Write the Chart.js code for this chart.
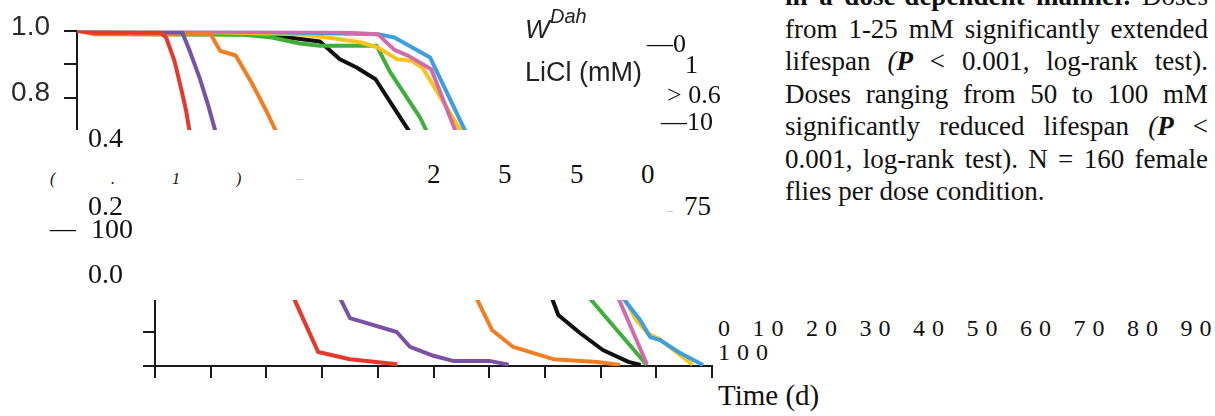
<!DOCTYPE html>
<html>
<head>
<meta charset="utf-8">
<script src="https://cdn.jsdelivr.net/npm/chart.js@4.4.1/dist/chart.umd.min.js"></script>
<style>
  body { margin: 0; width: 1215px; height: 416px; overflow: hidden; background: #fff; position: relative; }
  .t { position: absolute; white-space: nowrap; line-height: 1; color: #111; }
  .serif { font-family: 'Liberation Serif', serif; }
  .sans { font-family: 'Liberation Sans', Arial, sans-serif; color: #222; }
  #topPanel { position: absolute; left: 0; top: 0; width: 720px; height: 130px; overflow: hidden; }
  #topPanel canvas { position: absolute; left: 0; top: 0; }
  #botPanel { position: absolute; left: 0; top: 300px; width: 716px; height: 85px; overflow: hidden; }
  #botPanel canvas { position: absolute; left: 0; top: -300px; }
  .para { position: absolute; left: 785px; top: -20px; width: 423px; font: 27px/32.5px 'Liberation Serif', serif; color: #111; }
  .para div { text-align: justify; text-align-last: justify; }
  .para div.last { text-align-last: left; }
</style>
</head>
<body>

<div id="topPanel"><canvas id="chartTop" width="720" height="420"></canvas></div>
<div id="botPanel"><canvas id="chartBottom" width="720" height="420"></canvas></div>

<!-- legend as it came out of the pdf -->
<div class="t sans" style="left:525px;top:16px;font-size:26px;font-style:italic;">W</div>
<div class="t sans" style="left:550px;top:6px;font-size:20px;font-style:italic;">Dah</div>
<div class="t sans" style="left:525px;top:59px;font-size:27px;">LiCl (mM)</div>
<div class="t serif" style="left:647px;top:31px;font-size:26px;">—0</div>
<div class="t serif" style="left:685px;top:52px;font-size:26px;">1</div>
<div class="t serif" style="left:667px;top:82px;font-size:26px;">&gt; 0.6</div>
<div class="t serif" style="left:661px;top:109px;font-size:26px;">—10</div>

<div class="t serif" style="left:88px;top:124px;font-size:28px;">0.4</div>
<div class="t serif" style="left:50px;top:171px;font-size:16px;font-style:italic;">(</div>
<div class="t serif" style="left:111px;top:171px;font-size:16px;font-style:italic;">.</div>
<div class="t serif" style="left:172px;top:171px;font-size:16px;font-style:italic;">1</div>
<div class="t serif" style="left:236px;top:171px;font-size:16px;font-style:italic;">)</div>
<div class="t serif" style="left:296px;top:172px;font-size:14px;color:#9fd49f;">–</div>
<div class="t serif" style="left:427px;top:161px;font-size:27px;">2</div>
<div class="t serif" style="left:498px;top:161px;font-size:27px;">5</div>
<div class="t serif" style="left:570px;top:161px;font-size:27px;">5</div>
<div class="t serif" style="left:641px;top:161px;font-size:27px;">0</div>
<div class="t serif" style="left:88px;top:192px;font-size:28px;">0.2</div>
<div class="t serif" style="left:667px;top:204px;font-size:12px;color:#bba8d8;">–</div>
<div class="t serif" style="left:684px;top:193px;font-size:27px;">75</div>
<div class="t serif" style="left:50px;top:216px;font-size:26px;">—</div>
<div class="t serif" style="left:91px;top:215px;font-size:28px;">100</div>
<div class="t serif" style="left:88px;top:260px;font-size:28px;">0.0</div>

<div class="t serif" style="left:718px;top:316px;font-size:24px;letter-spacing:7px;word-spacing:2.5px;">0 10 20 30 40 50 60 70 80 90</div>
<div class="t serif" style="left:718px;top:340px;font-size:24px;letter-spacing:7px;">100</div>
<div class="t serif" style="left:718px;top:381px;font-size:29px;">Time (d)</div>

<div class="para">
  <div><b>in a dose-dependent manner.</b> Doses</div>
  <div>from 1-25 mM significantly extended</div>
  <div>lifespan <i>(<b>P</b></i> &lt; 0.001, log-rank test).</div>
  <div>Doses ranging from 50 to 100 mM</div>
  <div>significantly reduced lifespan <i>(<b>P</b></i> &lt;</div>
  <div>0.001, log-rank test). N = 160 female</div>
  <div class="last">flies per dose condition.</div>
</div>

<script>
// survival curves, time in days, fraction alive
const time100 = [0, 3, 15, 16, 17.5, 18.8, 19.6, 20.5, 22.5, 23.8, 29.3, 35, 43.5];
const surv100 = [1, 0.994, 0.994, 0.98, 0.91, 0.82, 0.76, 0.67, 0.42, 0.24, 0.041, 0.02, 0.005];

const time75 = [0, 5, 18.9, 20, 22, 23.5, 25, 29, 32, 35, 43.4, 45.8, 50, 53.5, 60, 63.5];
const surv75 = [1, 0.997, 0.995, 0.95, 0.86, 0.78, 0.69, 0.45, 0.24, 0.141, 0.1, 0.056, 0.03, 0.015, 0.015, 0.004];

const time50 = [0, 3, 24, 25.7, 28.5, 31.5, 34, 36, 44, 51, 56.5, 60.5, 64.3, 71.5, 79.4, 83.5];
const surv50 = [1, 0.99, 0.99, 0.94, 0.926, 0.84, 0.76, 0.69, 0.45, 0.32, 0.24, 0.106, 0.056, 0.02, 0.012, 0.003];

const time10 = [0, 45, 54, 57, 59.5, 63.6, 68.2, 75, 82, 88.3];
const surv10 = [1, 0.997, 0.99, 0.943, 0.925, 0.885, 0.69, 0.43, 0.245, 0.006];

const time5 = [0, 30, 54, 57, 63.4, 70, 76, 84, 87.1, 88.9, 90.7, 94.3, 98.4];
const surv5 = [1, 0.997, 0.99, 0.98, 0.92, 0.69, 0.47, 0.2, 0.135, 0.085, 0.076, 0.038, 0.003];

const time1 = [0, 20, 40, 46, 51, 54, 56.5, 57.5, 60, 62, 69.3, 76, 84, 86.2, 88.5, 90.5, 93.5, 96.5];
const surv1 = [1, 0.997, 0.99, 0.978, 0.965, 0.95, 0.925, 0.915, 0.91, 0.89, 0.69, 0.46, 0.21, 0.14, 0.095, 0.08, 0.042, 0.004];

const time25 = [0, 10, 30, 35, 40, 43.6, 53.8, 56.2, 61.6, 70, 78, 88.3];
const surv25 = [1, 0.99, 0.988, 0.98, 0.962, 0.955, 0.955, 0.877, 0.74, 0.45, 0.2, 0.003];

const time0 = [0, 10, 30, 38, 43.6, 47.2, 50.2, 53.6, 56.3, 60, 66, 72.4, 76.3, 80.4, 85, 87.2];
const surv0 = [1, 0.993, 0.99, 0.98, 0.968, 0.915, 0.89, 0.855, 0.785, 0.69, 0.43, 0.15, 0.097, 0.047, 0.012, 0.003];

const xTicks = [0, 10, 20, 30, 40, 50, 60, 70, 80, 90, 100];

// first one is drawn on top
const lines = [
  { label: '100', t: time100, s: surv100, color: '#e6392d' },
  { label: '75', t: time75, s: surv75, color: '#7b52a3' },
  { label: '50', t: time50, s: surv50, color: '#f27e22' },
  { label: '10', t: time10, s: surv10, color: '#d26ba9' },
  { label: '5', t: time5, s: surv5, color: '#3d9fdb' },
  { label: '1', t: time1, s: surv1, color: '#f9c31a' },
  { label: '25', t: time25, s: surv25, color: '#3fae3a' },
  { label: '0', t: time0, s: surv0, color: '#111111' }
];

function makeDatasets() {
  return lines.map(l => ({
    label: l.label,
    data: l.t.map((x, i) => ({ x: x, y: l.s[i] })),
    borderColor: l.color,
    borderWidth: 4,
    pointRadius: 0,
    tension: 0,
    borderJoinStyle: 'round',
    fill: false
  }));
}

const axisColor = '#1a1a1a';

// upper piece: 1.0 down to 0.7
new Chart(document.getElementById('chartTop'), {
  type: 'line',
  data: { datasets: makeDatasets() },
  options: {
    responsive: false,
    animation: false,
    layout: { padding: { top: 25, right: 86, bottom: 55, left: 0 } },
    plugins: { legend: { display: false }, tooltip: { enabled: false } },
    scales: {
      x: { type: 'linear', min: 0, max: 100, display: false },
      y: {
        min: 0, max: 1,
        afterFit: s => { s.width = 77; },
        ticks: {
          stepSize: 0.1,
          autoSkip: false,
          padding: 14,
          labelOffset: -4,
          color: '#2a2a2a',
          font: { family: 'Liberation Sans', size: 28 },
          callback: v => (Math.round(v * 10) % 2 === 0 ? v.toFixed(1) : '')
        },
        grid: { drawOnChartArea: false, drawTicks: true, tickLength: 13, color: axisColor, lineWidth: 2 },
        border: { display: true, color: axisColor, width: 2 }
      }
    }
  }
});

// lower piece: 0 to about 0.19 with the time axis
new Chart(document.getElementById('chartBottom'), {
  type: 'line',
  data: { datasets: makeDatasets() },
  options: {
    responsive: false,
    animation: false,
    layout: { padding: { top: 26, right: 8, bottom: 0, left: 0 } },
    plugins: { legend: { display: false }, tooltip: { enabled: false } },
    scales: {
      x: {
        type: 'linear', min: 0, max: 100,
        afterFit: s => { s.height = 54; },
        afterBuildTicks: s => { s.ticks = xTicks.map(v => ({ value: v })); },
        ticks: { display: false },
        grid: { drawOnChartArea: false, drawTicks: true, tickLength: 12, color: axisColor, lineWidth: 2 },
        border: { display: true, color: axisColor, width: 2 }
      },
      y: {
        min: 0, max: 1,
        afterFit: s => { s.width = 155; },
        ticks: { display: false, stepSize: 0.1, autoSkip: false },
        grid: { drawOnChartArea: false, drawTicks: true, tickLength: 12, color: axisColor, lineWidth: 2 },
        border: { display: true, color: axisColor, width: 2 }
      }
    }
  }
});
</script>
</body>
</html>
